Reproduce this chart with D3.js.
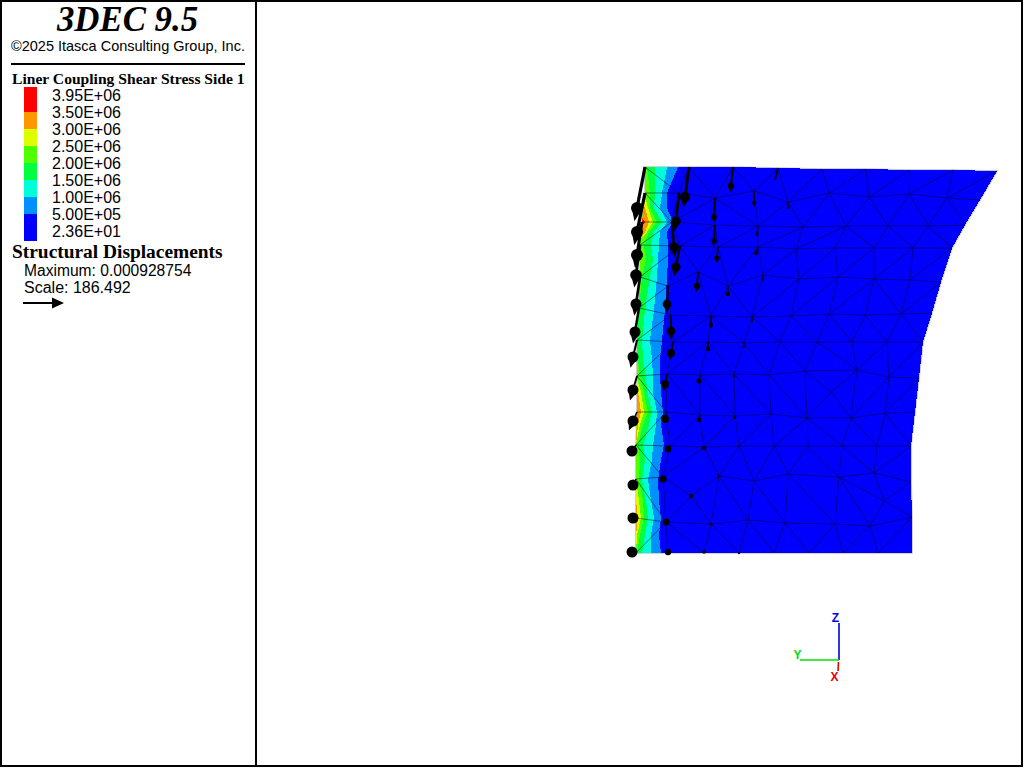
<!DOCTYPE html>
<html><head><meta charset="utf-8">
<script src="https://cdn.jsdelivr.net/npm/d3@7"></script>
<style>html,body{margin:0;padding:0;background:#fff;overflow:hidden}svg{display:block}
.sans{font-family:"Liberation Sans",Arial,sans-serif}.serif{font-family:"Liberation Serif","Times New Roman",serif;font-weight:bold}</style>
</head><body><svg id="c" width="1024" height="768"></svg>
<script>
// Legend
const legendLabels=["3.95E+06","3.50E+06","3.00E+06","2.50E+06","2.00E+06","1.50E+06","1.00E+06","5.00E+05","2.36E+01"];
const bandColors=["#0000ff","#0090ff","#00ffd8","#00ff40","#50ff00","#dcff00","#ff9600","#ff0000"];
const legendEdges=[241,214,197,180,163,146,129,112,87];
// Mesh nodes [id, Y, Z] (model units)
const rowA=[["a0",9,386],["a1",53,386],["a2",97,386],["a3",142,385],["a4",186,384],["a5",230,384],["a6",274,383],["a7",317,383],["a8",361,382]];
const rowB=[["b0",9,360],["b1",43,360],["b2",79,355],["b3",118,362],["b4",152,351],["b5",193,360],["b6",233,356],["b7",273,359],["b8",311,355],["b9",344,353]];
const rowC=[["c0",6,331],["c1",36,331],["c2",79,328],["c3",122,327],["c4",167,326],["c5",210,327],["c6",252,327],["c7",292,327],["c8",329,328]];
const rowD=[["d0",4,308],["d1",44,307],["d2",82,306],["d3",122,306],["d4",160,304],["d5",199,305],["d6",238,305],["d7",277,305],["d8",316,305]];
const rowE=[["e0",4,276],["e1",32,267],["e2",62,281],["e3",92,267],["e4",127,278],["e5",163,274],["e6",202,276],["e7",238,274],["e8",274,273],["e9",305,271]];
const rowF=[["f0",3,245],["f1",35,238],["f2",75,237],["f3",116,236],["f4",155,237],["f5",193,239],["f6",229,238],["f7",265,239],["f8",296,240]];
const rowG=[["g0",1,213],["g1",37,211],["g2",72,211],["g3",108,210],["g4",144,211],["g5",181,211],["g6",216,211],["g7",251,211],["g8",287,211]];
const rowH=[["h0",1,177],["h1",31,179],["h2",64,178],["h3",98,179],["h4",133,178],["h5",169,182],["x",195,161],["h6",221,183],["h7",253,176],["h8",283,175]];
const rowI=[["i0",1,141],["i1",30,141],["i2",64,138],["i3",99,137],["i4",135,139],["i5",171,135],["i6",215,135],["i7",249,140],["i8",279,141]];
const rowJ=[["j0",0,108],["j1",34,107],["j2",68,106],["j3",103,107],["j4",138,107],["j5",172,107],["j6",206,107],["j7",241,107],["j8",275,107]];
const rowK=[["k0",0,74],["k1",27,76],["k2",83,77],["k3",118,72],["k4",152,79],["k5",203,76],["k6",238,80],["k7",275,71],["y1",55,57],["y2",248,52]];
const rowL=[["l0",0,35],["l1",30,31],["l2",75,29],["l3",112,33],["l4",149,30],["l5",199,29],["l6",234,27],["l7",276,36]];
const rowM=[["m0",0,0],["m1",32,0],["m2",68,0],["m3",103,0],["m4",138,0],["m5",173,0],["m6",207,0],["m7",242,0],["m8",276,0]];
const outlineIds="a0 a1 a2 a3 a4 a5 a6 a7 a8 b9 c8 d8 e9 f8 g8 h8 i8 j8 k7 l7 m8 m7 m6 m5 m4 m3 m2 m1 m0 l0 k0 j0 i0 h0 g0 f0 e0 d0 c0 b0";
const meshChains=["b0 b1 b2 b3 b4 b5 b6 b7 b8 b9","c0 c1 c2 c3 c4 c5 c6 c7 c8","d0 d1 d2 d3 d4 d5 d6 d7 d8","e0 e1 e2 e3 e4 e5 e6 e7 e8 e9","f0 f1 f2 f3 f4 f5 f6 f7 f8","g0 g1 g2 g3 g4 g5 g6 g7 g8","h0 h1 h2 h3 h4 h5 h6 h7 h8","i0 i1 i2 i3 i4 i5 i6 i7 i8","j0 j1 j2 j3 j4 j5 j6 j7 j8","k0 k1","k2 k3 k4 k5 k6 k7","l0 l1 l2 l3 l4 l5 l6 l7"];
const meshEdges=("a0 b1;a1 b1;a1 b2;a2 b2;a2 b3;a3 b3;a3 b4;a4 b4;a4 b5;a5 b5;a5 b6;a6 b6;a6 b7;a7 b7;a7 b8;a8 b8;"+
"b0 c1;b1 c1;c1 b2;b2 c2;b2 c3;b3 c3;c3 b4;b4 c4;b5 c4;b5 c5;b6 c5;b6 c6;b7 c6;b7 c7;b8 c7;b8 c8;"+
"c1 d0;c1 d1;c2 d1;c2 d2;c3 d2;c3 d3;c4 d3;c4 d4;c5 d4;c5 d5;c5 d6;c6 d6;c6 d7;c7 d7;c7 d8;"+
"d1 e0;d1 e1;d1 e2;d2 e2;d2 e3;d3 e3;d3 e4;d4 e4;d4 e5;d5 e5;d5 e6;d6 e6;d6 e7;d7 e7;d7 e8;d8 e8;"+
"e1 f0;e1 f1;e2 f2;e3 f2;e3 f3;e4 f3;e5 f3;e5 f4;e6 f4;e6 f5;e7 f5;e7 f6;e7 f7;e8 f7;e9 f7;"+
"f1 g0;f1 g1;f2 g1;f2 g2;f2 g3;f3 g3;f3 g4;f4 g4;f4 g5;f5 g5;f5 g6;f6 g6;f6 g7;f7 g7;f7 g8;"+
"g1 h0;g1 h1;g2 h1;g2 h2;g2 h3;g3 h3;g3 h4;g4 h4;g4 h5;g5 h5;g5 h6;g6 h6;g7 h6;g7 h7;g8 h7;"+
"h0 i1;h1 i1;h1 i2;h2 i2;h2 i3;h3 i3;h3 i4;h4 i4;h4 i5;h5 i5;h5 x;x h6;x i5;x i6;h6 i6;h7 i6;h7 i7;h8 i7;"+
"i1 j0;i1 j1;i2 j1;i2 j2;i3 j2;i3 j3;i4 j3;i4 j4;i5 j4;i5 j5;i5 j6;i6 j6;i6 j7;i7 j7;i7 j8;"+
"j0 k1;j1 k1;j2 k1;j2 k2;j3 k2;j3 k3;j4 k3;j4 k4;j5 k4;j5 k5;j6 k5;j6 k6;j7 k6;j8 k6;"+
"k0 l1;k1 l1;k1 y1;y1 k2;y1 l1;y1 l2;k2 l2;k2 l3;k3 l3;k3 l4;k4 l4;k4 l5;k5 l5;k5 l6;k5 y2;k6 y2;k7 y2;y2 l6;y2 l7;"+
"l1 m0;l1 m1;l1 m2;l2 m2;l2 m3;l3 m3;l3 m4;l4 m4;l4 m5;l5 m5;l5 m6;l6 m6;l6 m7;l7 m7").split(";");
// Contour levels: heights and the Y reached by each level at each height
const contourZ=[386,360,345,331,321,308,293,276,243,213,193,177,161,141,128,108,93,73,53,35,18,0];
const level1=[42,31,31,37,31,32,32,31,29,26,24,24,25,27,25,28,25,22,23,25,23,25];
const level2=[31,26,24,31,24,23,22,21,18,14,16,17,17,21,20,17,16,12,15,18,15,15];
const level3=[19,19,18,26,18,15,17,14,9,6,7,10,11,16,13,7,9,6,10,12,9,6];
const level4=[11,14,14,21,13,8,10,6,3,0,2,4,8,12,7,2,4,3,7,8,4,1];
const level5=[0,8,12,17,11,0,0,0,0,0,0,0,5,8,4,0,0,0,3,5,1,0];
const level6=[0,0,9,13,9,0,0,0,0,0,0,0,2,5,2,0,0,0,0,2,0,0];
const level7=[0,0,0,9,0,0,0,0,0,0,0,0,0,0,0,0,0,0,0,0,0,0];
// Displacement vectors [node, dY, dZ, head radius]
const displacements=[["a0",-8,-41,6],["b0",-8,-39,6],["c0",-5,-33,6],["d0",-4,-30,5.8],["e0",-4,-27,5.5],["f0",-4,-24,5.5],["g0",-4,-17,5.5],["h0",-4,-14,5.5],["i0",-4,-9,5.5],["j0",-4,-6,5.5],["k0",-3,-6,5.5],["l0",-3,0,5.5],["m0",-4,1,5.5],
["a1",-4,-30,5],["b1",-3,-28,4.8],["c1",2,-25,4.8],["d1",-4,-21,4.6],["e1",-1,-18,4.4],["f1",0,-16,4.4],["g1",-2,-11,4],["h1",-2,-10,4],["i1",-1,-7,4],["j1",-2,-3,3.4],["k1",0,-2,3.6],["l1",0,0,3.4],["m1",0,1,3.2],
["a2",-2,-19,3.2],["b2",-1,-19,2.8],["c2",-1,-16,2.8],["d2",-1,-11,2.6],["e2",-1,-14,3.2],["e3",0,-8,2.2],["f2",0,-9,2.2],["g2",0,-7,2.2],["h2",-1,-6,2.5],["i2",-1,-5,2.2],["j2",0,-1,2.2],["y1",0,0,2.2],["k2",0,0,1.5],["l2",0,0,1.5],["m2",0,1,1.8],
["a3",-3,-12,0.5],["b3",0,-12,2],["c3",-1,-8,1.4],["d3",-2,-6,1.9],["e4",0,-5,1],["f3",0,-4,1],["g3",0,-4,0.8],["h3",0,-2,1.2],["i3",0,-2,1.2],["j3",0,0,1],["m3",0,0,1.2],["b4",0,-6,1]];

const svg=d3.select("#c");
const X=d3.scaleLinear().domain([0,361]).range([636,997]);
const Z=d3.scaleLinear().domain([0,386]).range([553,167]);
const nodes=new Map([...rowA,...rowB,...rowC,...rowD,...rowE,...rowF,...rowG,...rowH,...rowI,...rowJ,...rowK,...rowL,...rowM].map(n=>[n[0],n]));
const pt=id=>{const n=nodes.get(id);return [X(n[1]),Z(n[2])];};
const line=d3.line();

// Frame
svg.append("rect").attr("x",1).attr("y",1).attr("width",1021).attr("height",765).attr("fill","none").attr("stroke","#000").attr("stroke-width",2);
svg.append("line").attr("x1",256).attr("x2",256).attr("y1",0).attr("y2",767).attr("stroke","#000").attr("stroke-width",2);

// Text panel
const txt=(s,x,y,size,cls,anchor,extra)=>{const t=svg.append("text").text(s).attr("x",x).attr("y",y).attr("font-size",size).attr("class",cls).attr("fill","#000").attr("text-anchor",anchor||"start");if(extra)t.attr("font-style",extra);return t;};
txt("3DEC 9.5",127.5,31,34.8,"serif","middle","italic");
txt("©2025 Itasca Consulting Group, Inc.",11,51,14.5,"sans");
svg.append("line").attr("x1",11).attr("x2",245).attr("y1",64).attr("y2",64).attr("stroke","#000").attr("stroke-width",2);
txt("Liner Coupling Shear Stress Side 1",12,84,15.6,"serif");
const legY=d3.scaleLinear().domain([0,8]).range([101,237]);
legendEdges.slice(0,-1).forEach((e,i)=>{
  svg.append("rect").attr("x",24).attr("width",13).attr("y",legendEdges[i+1]).attr("height",e-legendEdges[i+1]).attr("fill",bandColors[i]).attr("shape-rendering","crispEdges");
});
legendLabels.forEach((l,i)=>txt(l,52,legY(i),16,"sans"));
txt("Structural Displacements",12,258,19.4,"serif");
txt("Maximum: 0.000928754",24,276,15.6,"sans");
txt("Scale: 186.492",24,293,16,"sans");
svg.append("line").attr("x1",23).attr("x2",54).attr("y1",303).attr("y2",303).attr("stroke","#000").attr("stroke-width",2);
svg.append("path").attr("d","M52,297.5L64,303L52,308.5Z").attr("fill","#000");

// Mesh fill
const outline=outlineIds.split(" ").map(pt);
svg.append("defs").append("clipPath").attr("id","mesh").append("path").attr("d",line(outline)+"Z");
svg.append("path").attr("d",line(outline)+"Z").attr("fill","none").attr("stroke","#c4c4c4").attr("stroke-width",1.6);
svg.append("path").attr("d",line(outline)+"Z").attr("fill",bandColors[0]).attr("shape-rendering","crispEdges");

// Contour bands
const bands=svg.append("g").attr("clip-path","url(#mesh)").attr("shape-rendering","crispEdges");
const area=d3.area().x0(X(-10)).x1(d=>X(d[0])).y(d=>Z(d[1]));
[level1,level2,level3,level4,level5,level6,level7].forEach((lv,i)=>{
  bands.append("path").attr("d",area(lv.map((v,k)=>[v,contourZ[k]]))).attr("fill",bandColors[i+1]);
});

// Mesh lines
const ml=svg.append("g").attr("fill","none").attr("stroke","#00002a").attr("stroke-width",0.5);
meshChains.forEach(c=>ml.append("path").attr("d",line(c.split(" ").map(pt))));
meshEdges.forEach(e=>ml.append("path").attr("d",line(e.split(" ").map(pt))));

// Displacement arrows
const ag=svg.append("g").attr("fill","#000").attr("stroke","none");
displacements.forEach(([id,dY,dZ,r])=>{
  const [x0,y0]=pt(id), n=nodes.get(id);
  const x1=X(n[1]+dY), y1=Z(n[2]+dZ), len=Math.hypot(x1-x0,y1-y0);
  if(len>0.5) ag.append("line").attr("x1",x0).attr("y1",y0).attr("x2",x1).attr("y2",y1).attr("stroke","#000").attr("stroke-width",Math.min(3.2,1+len*0.06));
  if(r>=0.8) ag.append("circle").attr("cx",x1).attr("cy",y1).attr("r",r);
  if(len>8&&r>=0.8){
    const ux=(x1-x0)/len,uy=(y1-y0)/len,t=r*1.5*len/(len+8);
    ag.append("path").attr("d",line([[x1-uy*r*.9,y1+ux*r*.9],[x1+ux*(r+t),y1+uy*(r+t)],[x1+uy*r*.9,y1-ux*r*.9]])+"Z");
  }
});

// Axes triad
const triad=[["Z",839,660,839,623,"#0000e0",835.5,621.5],["Y",839,660,800,660,"#00e000",797.5,658.5],["X",838.5,662,838,671,"#e00000",834.5,680.5]];
triad.forEach(([l,a,b,c,d,col,tx,ty])=>{
  svg.append("line").attr("x1",a).attr("y1",b).attr("x2",c).attr("y2",d).attr("stroke",col).attr("stroke-width",1.6);
  svg.append("text").text(l).attr("x",tx).attr("y",ty).attr("fill",col).attr("font-size",12).attr("font-weight","bold").attr("class","sans").attr("text-anchor","middle");
});
</script></body></html>
